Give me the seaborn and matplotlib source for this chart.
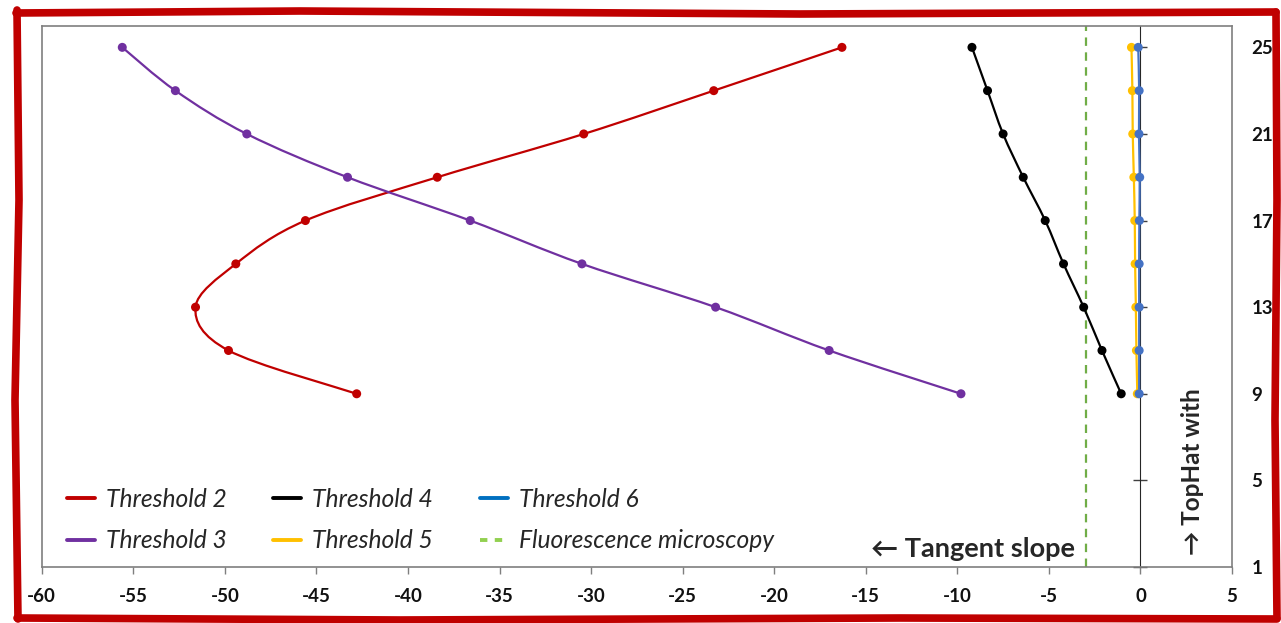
import matplotlib
matplotlib.use("Agg")
import matplotlib.pyplot as plt
import numpy as np
import pandas as pd
import seaborn as sns
from matplotlib.path import Path
from matplotlib.patches import PathPatch
from matplotlib.lines import Line2D

# data (y = TopHat threshold, x = tangent slope)
thresholds = [25, 23, 21, 19, 17, 15, 13, 11, 9]
slope_t2 = [-16.3, -23.3, -30.4, -38.4, -45.6, -49.4, -51.6, -49.8, -42.8]
slope_t3 = [-55.6, -52.7, -48.8, -43.3, -36.6, -30.5, -23.2, -17.0, -9.8]
slope_t4 = [-9.2, -8.35, -7.5, -6.4, -5.2, -4.2, -3.1, -2.1, -1.05]
slope_t5 = [-0.49, -0.44, -0.42, -0.36, -0.31, -0.29, -0.25, -0.22, -0.17]
slope_t6 = [-0.12, -0.07, -0.08, -0.04, -0.06, -0.07, -0.07, -0.07, -0.07]
fluorescence_slope = -3.0

series_names = ["Threshold 2", "Threshold 3", "Threshold 4", "Threshold 5", "Threshold 6"]
series_values = [slope_t2, slope_t3, slope_t4, slope_t5, slope_t6]
x_ticks = list(range(-60, 6, 5))
y_ticks = [1, 5, 9, 13, 17, 21, 25]

plot_colors = ["#C00000", "#7030A0", "#000000", "#FFC000", "#4472C4"]
legend_colors = ["#C00000", "#7030A0", "#000000", "#FFC000", "#0070C0"]
green_line = "#70AD47"
green_legend = "#92D050"
grey = "#7F7F7F"

df = pd.DataFrame({
    "series": np.repeat(series_names, len(thresholds)),
    "threshold": thresholds * len(series_names),
    "slope": np.concatenate(series_values),
})

sns.set_style("white")
plt.rcParams["font.family"] = ["Lato", "DejaVu Sans"]
plt.rcParams["axes.unicode_minus"] = False


def smooth_path(xs, ys):
    # excel style smoothed line: catmull-rom as cubic bezier segments
    pts = np.column_stack([xs, ys]).astype(float)
    n = len(pts)
    verts = [pts[0]]
    codes = [Path.MOVETO]
    for i in range(n - 1):
        p0 = pts[max(i - 1, 0)]
        p1 = pts[i]
        p2 = pts[i + 1]
        p3 = pts[min(i + 2, n - 1)]
        verts += [p1 + (p2 - p0) / 6, p2 - (p3 - p1) / 6, p2]
        codes += [Path.CURVE4] * 3
    return Path(verts, codes)


W, H = 1281, 623
fig = plt.figure(figsize=(W / 100, H / 100), dpi=100)
ax = fig.add_axes([41.7 / W, 1 - 567 / H, (1232 - 41.7) / W, (567 - 25.7) / H])

ax.axvline(fluorescence_slope, color=green_line, lw=1.6, dashes=(3.8, 2.9), zorder=1)

for name, color in zip(series_names, plot_colors):
    sub = df[df["series"] == name]
    ax.add_patch(PathPatch(smooth_path(sub["slope"], sub["threshold"]),
                           facecolor="none", edgecolor=color, lw=1.6, zorder=2))

sns.scatterplot(data=df, x="slope", y="threshold", hue="series",
                palette=dict(zip(series_names, plot_colors)),
                s=42, linewidth=0, legend=False, zorder=3, ax=ax)

ax.set_xlim(-60, 5)
ax.set_ylim(1, 26)
ax.set_xlabel("")
ax.set_ylabel("")
ax.set_xticks(x_ticks)
ax.set_yticks(y_ticks)
ax.yaxis.tick_right()
for sp in ax.spines.values():
    sp.set_visible(True)
    sp.set_color(grey)
    sp.set_linewidth(1.2)

ax.tick_params(axis="x", direction="out", length=5, width=1, color=grey, pad=10,
               bottom=True, labelsize=13.5, labelcolor="#111111")
ax.tick_params(axis="y", length=0, pad=14, labelsize=13.5, labelcolor="#111111")
for lbl in ax.get_xticklabels() + ax.get_yticklabels():
    lbl.set_fontweight("bold")

# vertical axis crossing at x = 0 with cross ticks
sec = ax.secondary_yaxis(60 / 65)
sec.set_yticks(y_ticks)
sec.tick_params(direction="inout", length=10, width=1, color="#404040", labelleft=False, labelright=False)
sec.spines["left"].set_color("#404040")
sec.spines["left"].set_linewidth(1)

handles = [Line2D([], [], color=c, lw=2.8) for c in legend_colors]
handles.append(Line2D([], [], color=green_legend, lw=2.8, dashes=(1.9, 1.9)))
labels = series_names + ["Fluorescence microscopy"]
ax.legend(handles, labels, ncol=3, loc="lower left", bbox_to_anchor=(0.021, 0.027),
          frameon=False, prop=dict(family=["Lato", "DejaVu Sans"], style="italic", size=17.7),
          handlelength=1.14, handletextpad=0.45, columnspacing=1.9, labelspacing=0.75,
          borderpad=0, borderaxespad=0)

ax.text(0.868, 0.033, "\u2190 Tangent slope", transform=ax.transAxes, ha="right", va="center",
        fontsize=19.5, fontweight="bold", family=["Lato", "DejaVu Sans"])
ax.text(0.9664, 0.022, "\u2192 TopHat with", transform=ax.transAxes, ha="center", va="bottom",
        rotation=90, fontsize=17.5, fontweight="bold", family=["Lato", "DejaVu Sans"])

# hand drawn red frame around the whole picture
red = "#C00000"
frame = [
    ([16, 300, 800, 1276], [13, 11, 14, 12]),
    ([1276, 1277, 1275, 1277], [12, 200, 420, 618]),
    ([1277, 900, 400, 17], [619, 618, 620, 618]),
    ([18, 15, 19, 17], [619, 400, 200, 10]),
]
for xs, ys in frame:
    fig.add_artist(Line2D(np.array(xs) / W, 1 - np.array(ys) / H, color=red, lw=5.5,
                          solid_capstyle="round", transform=fig.transFigure))

fig.savefig("out.png", dpi=100)
